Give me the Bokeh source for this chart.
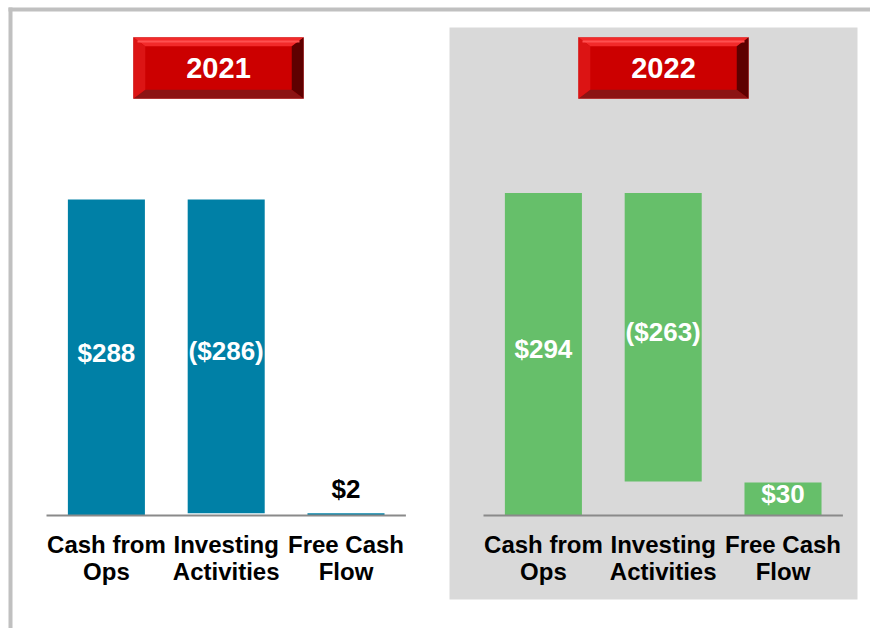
from bokeh.plotting import figure
from bokeh.models import Range1d
from bokeh.embed import file_html
from bokeh.resources import INLINE
from bokeh.core.properties import value

# ---------------- data ----------------
years = ["2021", "2022"]
categories = ["Cash from\nOps", "Investing\nActivities", "Free Cash\nFlow"]
cash_from_ops = [288, 294]
investing = [-286, -263]
free_cash_flow = [2, 30]
bar_colors = ["#0080a6", "#66bf6a"]

# ---------------- layout constants (canvas pixels) ----------------
W, H = 870, 628
X0 = 46.0          # canvas x where the first panel's first slot starts
SLOT = 119.8       # px per category slot
Y0 = 515.0         # canvas y of the zero line
S = 1.097          # px per $M
PANEL2_X = 483.0   # canvas x where the second panel's first slot starts
FONT = "Liberation Sans"


def ux(px):
    return (px - X0) / SLOT


def vy(py):
    return (Y0 - py) / S


p = figure(width=W, height=H,
           x_range=Range1d(ux(0), ux(W)), y_range=Range1d(vy(H), vy(0)),
           output_backend="svg", toolbar_location=None, tools="",
           x_axis_location=None, y_axis_location=None, min_border=0)
p.grid.visible = False
p.outline_line_color = None
p.background_fill_color = "white"
p.border_fill_color = "white"

# grey panel behind 2022
p.quad(left=ux(449), right=ux(857), top=vy(27), bottom=vy(599),
       fill_color="#d9d9d9", line_color=None)
# frame lines (top and left)
p.quad(left=ux(8), right=ux(W + 2), top=vy(7), bottom=vy(11),
       fill_color="#c0c0c0", line_color=None)
p.quad(left=ux(8), right=ux(12), top=vy(7), bottom=vy(H + 2),
       fill_color="#c0c0c0", line_color=None)


def fmt(v):
    return f"${v}" if v >= 0 else f"(${-v})"


def button(x0, x1, y0, y1, label):
    bx, by = 12, 9
    X = lambda a: ux(a)
    Y = lambda b: vy(b)
    # outer border
    p.quad(left=X(x0), right=X(x1), top=Y(y0), bottom=Y(y1),
           fill_color="#cc0000", line_color="#d25a5a", line_width=1)
    # bevels
    bev_xs = [
        [X(x0), X(x1), X(x1 - bx), X(x0 + bx)],          # top
        [X(x0), X(x1), X(x1 - bx), X(x0 + bx)],          # bottom
        [X(x0), X(x0), X(x0 + bx), X(x0 + bx)],          # left
        [X(x1), X(x1), X(x1 - bx), X(x1 - bx)],          # right
    ]
    bev_ys = [
        [Y(y0), Y(y0), Y(y0 + by), Y(y0 + by)],
        [Y(y1), Y(y1), Y(y1 - by), Y(y1 - by)],
        [Y(y1), Y(y0), Y(y0 + by), Y(y1 - by)],
        [Y(y1), Y(y0), Y(y0 + by), Y(y1 - by)],
    ]
    p.patches(xs=bev_xs, ys=bev_ys,
              fill_color=["#f22a2a", "#8c1414", "#dc1414", "#5e0000"],
              line_color=None)
    # top highlight line
    p.segment(x0=X(x0 + 4), x1=X(x1 - 4), y0=Y(y0 + 4), y1=Y(y0 + 4),
              line_color="#ff5050", line_width=2)
    # face
    p.quad(left=X(x0 + bx), right=X(x1 - bx), top=Y(y0 + by), bottom=Y(y1 - by),
           fill_color="#cc0000", line_color=None)
    p.text(x=[X((x0 + x1) / 2)], y=[Y((y0 + y1) / 2)], text=[label],
           text_font=value(FONT), text_font_style="bold", text_font_size="29px",
           text_color="white", text_align="center", text_baseline="middle")


buttons_x = [(133, 303), (578, 748)]

for i, year in enumerate(years):
    origin = 0.0 if i == 0 else ux(PANEL2_X)
    xs = [origin + k + 0.5 for k in range(len(categories))]
    ops, inv, fcf = cash_from_ops[i], investing[i], free_cash_flow[i]
    bottoms = [0, ops + inv, 0]
    tops = [ops, ops, fcf]
    vals = [ops, inv, fcf]

    p.vbar(x=xs, bottom=bottoms, top=tops, width=0.643,
           fill_color=bar_colors[i], line_color=None)
    # zero line
    p.segment(x0=origin, x1=origin + len(categories), y0=0, y1=0,
              line_color="#8a8a8a", line_width=2)

    # value labels
    in_x, in_y, in_t = [], [], []
    out_x, out_y, out_t = [], [], []
    for x, b, t, v in zip(xs, bottoms, tops, vals):
        if (t - b) * S < 30:
            out_x.append(x); out_y.append(t); out_t.append(fmt(v))
        else:
            in_x.append(x); in_y.append((b + t) / 2); in_t.append(fmt(v))
    p.text(x=in_x, y=in_y, text=in_t, text_font=value(FONT),
           text_font_style="bold", text_font_size="26px", text_color="white",
           text_align="center", text_baseline="middle", y_offset=-5)
    if out_x:
        p.text(x=out_x, y=out_y, text=out_t, text_font=value(FONT),
               text_font_style="bold", text_font_size="26px", text_color="black",
               text_align="center", text_baseline="middle", y_offset=-24)

    # category labels
    p.text(x=xs, y=[vy(557)] * len(xs), text=categories, text_font=value(FONT),
           text_font_style="bold", text_font_size="24px", text_color="black",
           text_align="center", text_baseline="middle", text_line_height=1.0)

    # year button
    bx0, bx1 = buttons_x[i]
    button(bx0, bx1, 37, 98, year)

open("out.html", "w").write(file_html(p, INLINE))
